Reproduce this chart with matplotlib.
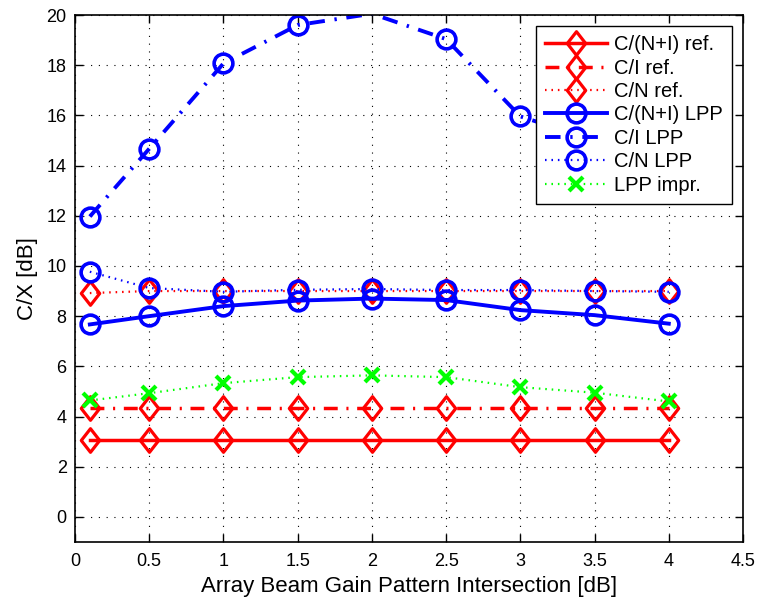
import numpy as np
import matplotlib
matplotlib.use('Agg')
import matplotlib.pyplot as plt
from matplotlib.path import Path

plt.rcParams['font.family'] = ['Liberation Sans', 'DejaVu Sans']

# Data
x = [0.1, 0.5, 1.0, 1.5, 2.0, 2.5, 3.0, 3.5, 4.0]
cni_ref = [3.05, 3.05, 3.05, 3.05, 3.05, 3.05, 3.05, 3.05, 3.05]
ci_ref = [4.33, 4.33, 4.33, 4.33, 4.33, 4.33, 4.33, 4.33, 4.33]
cn_ref = [8.92, 9.0, 9.0, 9.0, 9.0, 9.0, 9.0, 9.0, 9.0]
cni_lpp = [7.67, 8.0, 8.4, 8.62, 8.7, 8.64, 8.24, 8.04, 7.7]
ci_lpp = [11.97, 14.67, 18.07, 19.6, 20.05, 19.04, 15.96, 15.0, 14.0]
cn_lpp = [9.77, 9.12, 8.97, 9.05, 9.08, 9.04, 9.04, 9.0, 8.97]
lpp_impr = [4.64, 4.93, 5.33, 5.57, 5.64, 5.57, 5.17, 4.95, 4.6]

labels = ['C/(N+I) ref.', 'C/I ref.', 'C/N ref.', 'C/(N+I) LPP',
          'C/I LPP', 'C/N LPP', 'LPP impr.']
xticks = [0, 0.5, 1, 1.5, 2, 2.5, 3, 3.5, 4, 4.5]
xtick_labels = ['0', '0.5', '1', '1.5', '2', '2.5', '3', '3.5', '4', '4.5']
yticks = [0, 2, 4, 6, 8, 10, 12, 14, 16, 18, 20]
ymin, ymax = -1, 20

# MATLAB-like diamond marker
diamond = Path([(0, 1), (0.78, 0), (0, -1), (-0.78, 0), (0, 1)],
               [Path.MOVETO, Path.LINETO, Path.LINETO, Path.LINETO, Path.CLOSEPOLY])

dashdot = (0, (4, 2.5, 0.6, 2.5))
dotted = (0, (0.7, 2.2))

fig = plt.figure(figsize=(7.6, 6.04), dpi=100)
ax = fig.add_axes([75 / 760, 1 - 542 / 604, 668 / 760, 527 / 604])

red = (1, 0, 0)
blue = (0, 0, 1)
green = (0, 1, 0)

dkw = dict(marker=diamond, markersize=17, markerfacecolor='none', markeredgewidth=2.3)
okw = dict(marker='o', markersize=13.5, markerfacecolor='none', markeredgewidth=2.6)

# like MATLAB, no marker for points outside the y limits
inside = [i for i, v in enumerate(ci_lpp) if v <= ymax]

ax.plot(x, cni_ref, color=red, lw=2.5, linestyle='-', label=labels[0], **dkw)
ax.plot(x, ci_ref, color=red, lw=2.5, linestyle=dashdot, label=labels[1], **dkw)
ax.plot(x, cn_ref, color=red, lw=1.6, linestyle=dotted, label=labels[2], **dkw)
ax.plot(x, cni_lpp, color=blue, lw=2.8, linestyle='-', label=labels[3], **okw)
ax.plot(x, ci_lpp, color=blue, lw=2.8, linestyle=dashdot, label=labels[4],
        markevery=inside, **okw)
ax.plot(x, cn_lpp, color=blue, lw=1.6, linestyle=dotted, label=labels[5], **okw)
ax.plot(x, lpp_impr, color=green, lw=1.6, linestyle=dotted, marker='x',
        markersize=10, markeredgewidth=3, label=labels[6])

ax.set_xlim(0, 4.5)
ax.set_ylim(ymin, ymax)
ax.set_xticks(xticks)
ax.set_xticklabels(xtick_labels)
ax.set_yticks(yticks)
ax.tick_params(direction='in', length=6, width=1, top=True, right=True,
               labelsize=13, pad=6)
ax.tick_params(axis='x', pad=8)
for s in ax.spines.values():
    s.set_linewidth(1.2)

ax.grid(True, color='black', linestyle=(0, (1, 6)), linewidth=0.8)
ax.set_axisbelow(True)

ax.set_xlabel('Array Beam Gain Pattern Intersection [dB]', fontsize=16, labelpad=4)
ax.set_ylabel('C/X [dB]', fontsize=16, labelpad=6)

leg = ax.legend(loc='upper right', bbox_to_anchor=(0.9835, 0.979), borderaxespad=0,
                fontsize=14.5, numpoints=1, handlelength=3.1, labelspacing=0.22,
                handletextpad=0.35, borderpad=0.45, fancybox=False, framealpha=1,
                edgecolor='black')
leg.get_frame().set_linewidth(1.0)

fig.savefig('out.png', dpi=100)
